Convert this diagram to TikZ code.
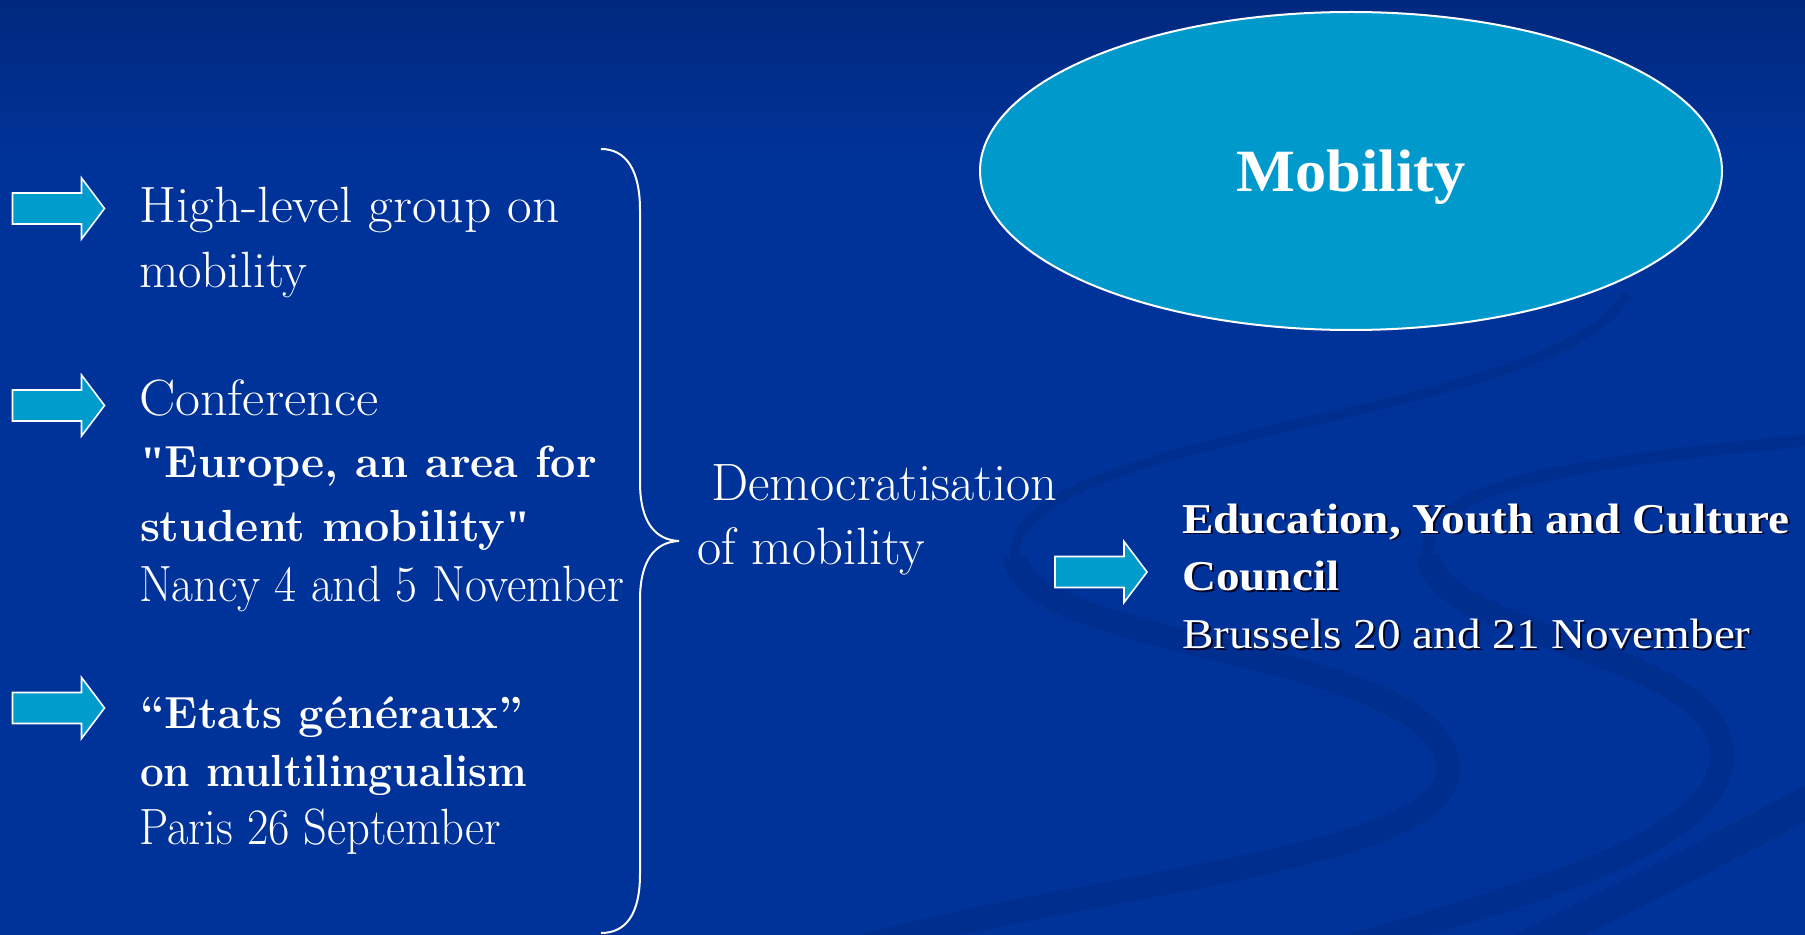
\documentclass[tikz,border=0pt]{standalone}
\usepackage{fontspec}
\usepackage{graphicx}
\usetikzlibrary{shapes.geometric}
\setmainfont{Latin Modern Roman}
\newfontfamily\tnr{Liberation Serif}
\newfontfamily\plainq{Liberation Serif}[Ligatures=TeXOff]
\newcommand{\sq}{{\plainq\bfseries\char"22}}
\definecolor{bgtop}{RGB}{0,40,126}
\definecolor{bgmain}{RGB}{0,51,153}
\definecolor{swoosh}{RGB}{0,46,142}
\definecolor{arrowfill}{RGB}{0,156,204}
\definecolor{ellfill}{RGB}{0,153,204}
\definecolor{shadowcol}{RGB}{5,5,40}
\tikzset{
  lt/.style={anchor=base west, inner sep=0pt, outer sep=0pt, text=white, font=\fontsize{25.5}{30}\selectfont},
  lb/.style={anchor=base west, inner sep=0pt, outer sep=0pt, text=white, font=\fontsize{22.5}{27}\selectfont\bfseries},
  rt/.style={anchor=base west, inner sep=0pt, outer sep=0pt, text=white, font=\tnr\fontsize{21.25}{26}\selectfont},
  rb/.style={rt, font=\tnr\fontsize{21.25}{26}\selectfont\bfseries},
  band/.style={draw=swoosh, line width=12pt},
  barrow/.pic={
    \draw[fill=arrowfill, draw=white, line width=0.8pt, line join=miter]
      (0,-15.5) -- (69,-15.5) -- (69,-30.5) -- (92,0) -- (69,30.5) -- (69,15.5) -- (0,15.5) -- cycle;
  }
}
\begin{document}
\begin{tikzpicture}[x=0.5pt,y=-0.5pt]
\useasboundingbox (0,0) rectangle (1805,935);
% background
\fill[bgmain] (0,0) rectangle (1805,935);
\shade[top color=bgtop, bottom color=bgmain] (0,0) rectangle (1805,160);
% swooshes
\draw[band, line width=5pt] (1627,294) .. controls (1560,420) and (1010,430) .. (1015,556);
\draw[band] (1015,556)
  .. controls (1020,650) and (1450,650) .. (1448,770)
  .. controls (1446,860) and (1100,880) .. (850,950);
\draw[band, line width=6pt] (1830,438) .. controls (1600,460) and (1420,480) .. (1428,555);
\draw[band] (1428,555)
  .. controls (1436,640) and (1730,650) .. (1722,760)
  .. controls (1714,850) and (1500,900) .. (1340,950);
\draw[band, line width=16pt] (1830,790) .. controls (1720,850) and (1620,900) .. (1520,950);

% left arrows
\pic at (12.5,208.5) {barrow};
\pic at (12.5,405.5) {barrow};
\pic at (12.5,708) {barrow};
\pic at (1055,572) {barrow};

% left texts
\node[lt] (h1) at (139,222.7) {\scalebox{1.05}[1]{High-level group on}};
\node[lt] (h2) at (139,287.3) {mobility};
\node[lt] (c1) at (139,415.7) {\scalebox{1.065}[1]{Conference}};
\node[lb] (c2) at (140,478) {\sq Europe, an area for};
\node[lb] (c3) at (140,541.7) {student mobility\sq};
\node[lt] (c4) at (139,601.7) {\scalebox{0.933}[1]{Nancy 4 and 5 November}};
\node[lb] (e1) at (140,728) {“Etats généraux”};
\node[lb] (e2) at (140,786.7) {\scalebox{0.94}[1]{on multilingualism}};
\node[lt] (e3) at (139,844) {\scalebox{0.912}[1]{Paris 26 September}};

% brace
\draw[white, line width=1pt] (601,149) .. controls (626,149) and (640,170) .. (640,210)
  -- (640,482) .. controls (640,522) and (655,540) .. (679,541)
  .. controls (655,542) and (640,560) .. (640,600)
  -- (640,874) .. controls (640,914) and (626,933) .. (601,933);

% democratisation
\node[lt, font=\fontsize{26.3}{31}\selectfont] (d1) at (711,500.6) {Democratisation};
\node[lt, font=\fontsize{26.3}{31}\selectfont] (d2) at (697,565) {of mobility};

% ellipse
\node[ellipse, draw=white, line width=1pt, fill=ellfill, minimum width=371pt, minimum height=159pt, inner sep=0pt] (mob) at (1351,171) {};
\node[anchor=base, inner sep=0pt, text=white, font=\tnr\fontsize{30}{36}\selectfont\bfseries] (mobt) at (1351,192) {\scalebox{1.04}[1]{Mobility}};

% right texts with shadow
\node[rb, text=shadowcol] (r1s) at (1184,535) {\scalebox{1.11}[1]{Education, Youth and Culture}};
\node[rb, text=shadowcol] (r2s) at (1184,592) {\scalebox{1.11}[1]{Council}};
\node[rt, text=shadowcol] (r3s) at (1184,650) {\scalebox{1.11}[1]{Brussels 20 and 21 November}};
\node[rb] (r1) at (1182,533) {\scalebox{1.11}[1]{Education, Youth and Culture}};
\node[rb] (r2) at (1182,590) {\scalebox{1.11}[1]{Council}};
\node[rt] (r3) at (1182,648) {\scalebox{1.11}[1]{Brussels 20 and 21 November}};
\end{tikzpicture}
\end{document}
